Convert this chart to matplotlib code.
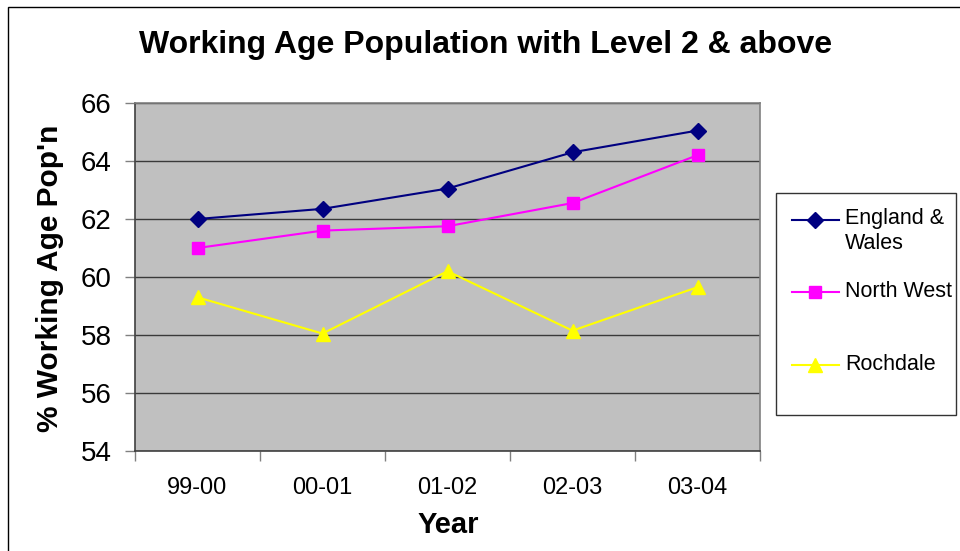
import numpy as np
import matplotlib.pyplot as plt
from matplotlib.patches import Rectangle
from matplotlib.legend_handler import HandlerLine2D

plt.rcParams['font.family'] = ['Liberation Sans', 'DejaVu Sans']

years = ['99-00', '00-01', '01-02', '02-03', '03-04']
england_wales = [62.0, 62.35, 63.05, 64.3, 65.05]
north_west = [61.0, 61.6, 61.75, 62.55, 64.2]
rochdale = [59.3, 58.05, 60.2, 58.15, 59.65]


class FirstLineHandler(HandlerLine2D):
    # put the legend symbol level with the first line of a two-line label
    def create_artists(self, legend, orig_handle, xdescent, ydescent,
                       width, height, fontsize, trans):
        return super().create_artists(legend, orig_handle, xdescent,
                                      ydescent - 1.1 * fontsize, width, height,
                                      fontsize, trans)


W, H = 960, 551
fig = plt.figure(figsize=(W / 100, H / 100), dpi=100)

# outer chart frame (cut off at right/bottom like the original)
fig.patches.append(Rectangle((8 / W, -0.1), 1.1, 1 - 7 / H + 0.1,
                             transform=fig.transFigure, fill=False,
                             edgecolor='black', linewidth=1))

ax = fig.add_axes([135 / W, (H - 451) / H, 625 / W, 348 / H])
ax.set_facecolor('#c0c0c0')

x = np.arange(len(years))
l1, = ax.plot(x, england_wales, color='#000080', marker='D', markersize=8,
              linewidth=1.5, zorder=3)
l2, = ax.plot(x, north_west, color='#ff00ff', marker='s', markersize=8,
              linewidth=1.5, zorder=3)
l3, = ax.plot(x, rochdale, color='#ffff00', marker='^', markersize=10,
              linewidth=1.5, zorder=3)

ax.set_xlim(-0.5, len(years) - 0.5)
ax.set_ylim(54, 66)
ax.set_yticks(np.arange(54, 67, 2))
ax.yaxis.grid(True, color='#3a3a3a', linewidth=1)
ax.set_axisbelow(True)

ax.set_xticks(x)
ax.set_xticklabels(years, fontsize=17)
ax.set_xticks(np.arange(-0.5, len(years)), minor=True)
ax.tick_params(axis='x', which='major', length=0, pad=19)
ax.tick_params(axis='x', which='minor', length=7, width=1, color='#808080', direction='out')
ax.tick_params(axis='y', labelsize=20, length=7, width=1, color='#808080', pad=10)

for s in ax.spines.values():
    s.set_color('#808080')
    s.set_linewidth(1.2)
ax.spines['left'].set_color('#404040')
ax.spines['bottom'].set_color('#404040')

fig.text(486 / W, 1 - 45 / H, 'Working Age Population with Level 2 & above',
         ha='center', va='center', fontsize=23, fontweight='bold')
fig.text(448 / W, 1 - 525 / H, 'Year', ha='center', va='center',
         fontsize=21, fontweight='bold')
fig.text(50 / W, 1 - 278 / H, "% Working Age Pop'n", ha='center', va='center',
         rotation=90, fontsize=21.5, fontweight='bold')

leg = fig.legend([l1, l2, l3], ['England &\nWales', 'North West\n', 'Rochdale\n'],
                 loc='upper left', mode='expand',
                 bbox_to_anchor=(776 / W, 1 - 419 / H, 180 / W, 226 / H),
                 handler_map={l1: FirstLineHandler(), l2: FirstLineHandler(),
                              l3: FirstLineHandler()},
                 fontsize=15.5, frameon=True, fancybox=False, handlelength=2.2,
                 handletextpad=0.3, labelspacing=1.28, borderpad=0.72,
                 borderaxespad=0)
leg.get_frame().set_edgecolor('black')
leg.get_frame().set_linewidth(1)

fig.savefig('out.png', dpi=100)
